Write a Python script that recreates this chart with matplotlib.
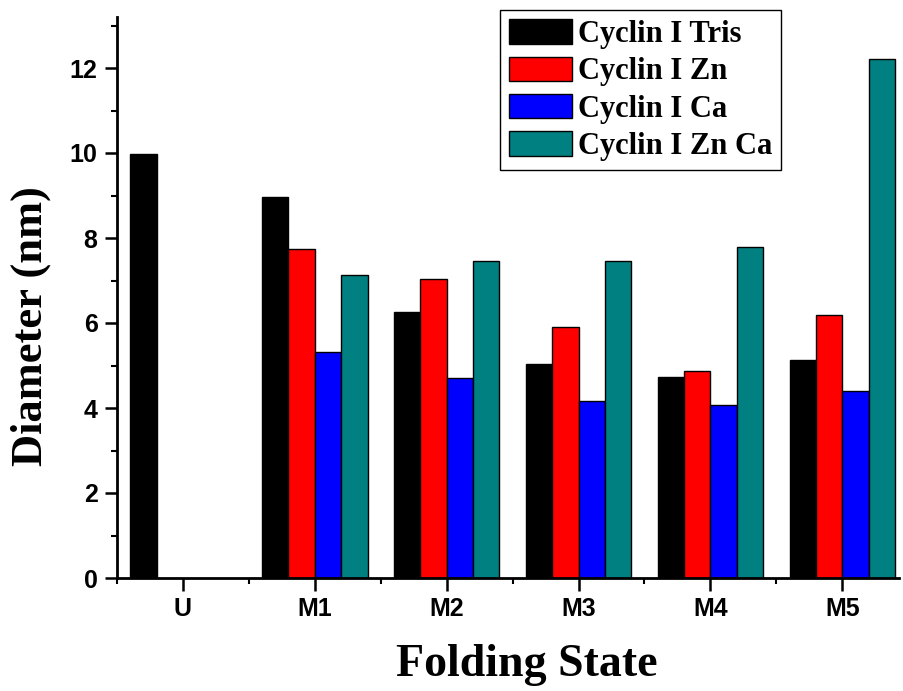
import numpy as np
import matplotlib
matplotlib.use('Agg')
import matplotlib.pyplot as plt
from matplotlib.ticker import MultipleLocator

# data
states = ['U', 'M1', 'M2', 'M3', 'M4', 'M5']
series = ['Cyclin I Tris', 'Cyclin I Zn', 'Cyclin I Ca', 'Cyclin I Zn Ca']
tris = [9.97, 8.96, 6.25, 5.03, 4.74, 5.12]
zn = [np.nan, 7.74, 7.04, 5.91, 4.87, 6.20]
ca = [np.nan, 5.32, 4.71, 4.17, 4.07, 4.41]
znca = [np.nan, 7.13, 7.45, 7.47, 7.79, 12.21]
colores = ['#000000', '#ff0000', '#0000ff', '#008080']

fig = plt.figure(figsize=(9.04, 6.91), dpi=100)
ax = fig.add_axes([117/904, 1 - 578/691, (899 - 117)/904, (578 - 17)/691])

x = np.arange(len(states))
ancho = 0.2
for i, (nombre, vals) in enumerate(zip(series, [tris, zn, ca, znca])):
    ax.bar(x + (i - 1.5) * ancho, vals, ancho, color=colores[i],
           edgecolor='black', linewidth=1, label=nombre)

ax.set_xlim(-0.5, 5.43)
ax.set_ylim(0, 13.2)
ax.set_xticks(x)
ax.set_xticklabels(states)
ax.xaxis.set_minor_locator(MultipleLocator(0.5))
ax.yaxis.set_major_locator(MultipleLocator(2))
ax.yaxis.set_minor_locator(MultipleLocator(1))

for s in ['top', 'right']:
    ax.spines[s].set_visible(False)
for s in ['left', 'bottom']:
    ax.spines[s].set_linewidth(2)

ax.tick_params(which='major', direction='out', length=9, width=1.8, pad=5)
ax.tick_params(which='minor', direction='out', length=4.5, width=1.5)
for lab in ax.get_xticklabels() + ax.get_yticklabels():
    lab.set_fontfamily('Liberation Sans')
    lab.set_fontweight('bold')
    lab.set_fontsize(18)

fig.text(31/904, 1 - 326/691, 'Diameter (nm)', rotation=90, ha='center', va='center',
         fontfamily='Liberation Serif', fontweight='bold', fontsize=32)
fig.text(527/904, 1 - 665/691, 'Folding State', ha='center', va='center',
         fontfamily='Liberation Serif', fontweight='bold', fontsize=33)

leg = ax.legend(loc='upper left', bbox_to_anchor=(500/904, 1 - 10/691),
                bbox_transform=fig.transFigure, borderaxespad=0,
                prop={'family': 'Liberation Serif', 'weight': 'bold', 'size': 22},
                fancybox=False, edgecolor='black', framealpha=1,
                handlelength=2.05, handleheight=0.85, handletextpad=0.2,
                labelspacing=0.25, borderpad=0.3)
leg.get_frame().set_linewidth(1)

fig.savefig('out.png', dpi=100)
